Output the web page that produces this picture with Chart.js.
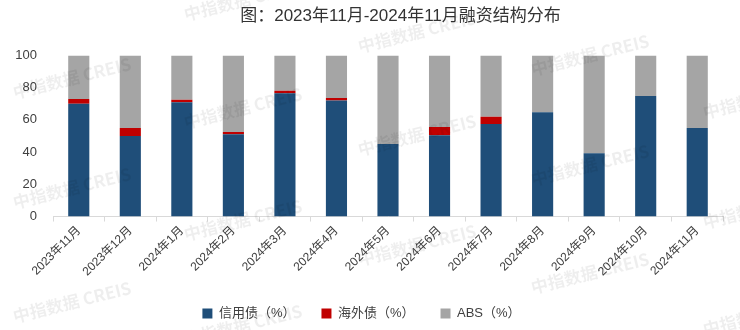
<!DOCTYPE html>
<html>
<head>
<meta charset="utf-8">
<script src="https://cdn.jsdelivr.net/npm/chart.js@4"></script>
<style>
  html, body { margin: 0; padding: 0; background: #fff; }
  #wrap { width: 740px; height: 330px; }
</style>
</head>
<body>
<div id="wrap"><canvas id="finChart"></canvas></div>
<script>
// 数据
const months = ['2023年11月', '2023年12月', '2024年1月', '2024年2月', '2024年3月', '2024年4月',
    '2024年5月', '2024年6月', '2024年7月', '2024年8月', '2024年9月', '2024年10月', '2024年11月'];
const creditBond = [70, 50, 71, 51, 76.5, 72, 45, 50.5, 57.5, 64.7, 39.2, 74.8, 55];
const overseasBond = [3, 5, 1.5, 1.5, 1.5, 1.5, 0, 5, 4.5, 0, 0, 0, 0];
const absShare = [27, 45, 27.5, 47.5, 22, 26.5, 55, 44.5, 38, 35.3, 60.8, 25.2, 45];
const yTicks = [0, 20, 40, 60, 80, 100];

const fontFamily = "'Liberation Sans', 'Noto Sans CJK SC', sans-serif";

// 水印位置
const marks = [
    [72, 78], [72, 188], [72, 302],
    [243, 0], [243, 108], [243, 220], [243, 325],
    [417, 32], [417, 135], [417, 245],
    [590, 55], [590, 165], [590, 273],
    [762, 98], [762, 208], [762, 315]
];

const watermark = {
    id: 'watermark',
    afterLayout(chart) {
        // 标题在原图中略偏右
        chart.titleBlock.left += 78;
    },
    afterDraw(chart) {
        const ctx = chart.ctx;
        ctx.save();
        ctx.fillStyle = 'rgba(0, 0, 0, 0.065)';
        ctx.font = "bold 17px 'Noto Sans CJK SC', sans-serif";
        ctx.textAlign = 'center';
        ctx.textBaseline = 'middle';
        marks.forEach(function(p) {
            ctx.save();
            ctx.translate(p[0], p[1]);
            ctx.rotate(-14 * Math.PI / 180);
            ctx.fillText('中指数据 CREIS', 0, 0);
            ctx.restore();
        });
        ctx.restore();
    }
};

new Chart(document.getElementById('finChart').getContext('2d'), {
    type: 'bar',
    data: {
        labels: months,
        datasets: [
            { label: '信用债（%）', data: creditBond, backgroundColor: '#1f4e79' },
            { label: '海外债（%）', data: overseasBond, backgroundColor: '#c00000' },
            { label: 'ABS（%）', data: absShare, backgroundColor: '#a5a5a5' }
        ]
    },
    options: {
        responsive: true,
        maintainAspectRatio: false,
        animation: false,
        datasets: { bar: { barPercentage: 0.41, categoryPercentage: 1.0 } },
        layout: { padding: { left: 0, right: 17, top: 0, bottom: 0 } },
        plugins: {
            title: {
                display: true,
                text: '图：2023年11月-2024年11月融资结构分布',
                color: '#333',
                font: { family: fontFamily, size: 17, weight: 'normal' },
                padding: { top: 6, bottom: 29 }
            },
            legend: {
                position: 'bottom',
                maxHeight: 52,
                labels: {
                    boxWidth: 10,
                    boxHeight: 10,
                    padding: 26,
                    color: '#404040',
                    font: { family: fontFamily, size: 13 }
                }
            },
            tooltip: { enabled: false }
        },
        scales: {
            x: {
                stacked: true,
                grid: { drawOnChartArea: false, drawTicks: true, tickLength: 5, color: '#d9d9d9', offset: true },
                border: { color: '#d9d9d9' },
                ticks: {
                    autoSkip: false,
                    minRotation: 45,
                    maxRotation: 45,
                    padding: 2,
                    color: '#404040',
                    font: { family: fontFamily, size: 12 }
                }
            },
            y: {
                stacked: true,
                min: 0,
                max: 100,
                afterFit: function(scale) { scale.width = 53; },
                afterBuildTicks: function(scale) { scale.ticks = yTicks.map(function(v) { return { value: v }; }); },
                grid: { display: false },
                border: { display: false },
                ticks: {
                    padding: 8,
                    color: '#404040',
                    font: { family: fontFamily, size: 13 }
                }
            }
        }
    },
    plugins: [watermark]
});
</script>
</body>
</html>
